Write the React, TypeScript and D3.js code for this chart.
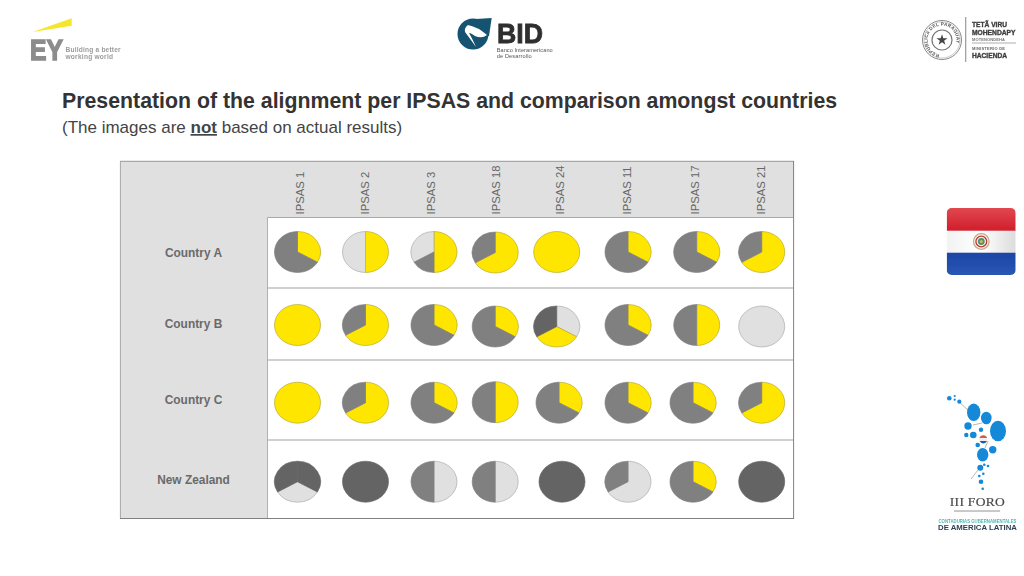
import React from "react";
import * as d3 from "d3";

// ---------- data ----------
const standards = ["IPSAS 1", "IPSAS 2", "IPSAS 3", "IPSAS 18", "IPSAS 24", "IPSAS 11", "IPSAS 17", "IPSAS 21"];
const countries = ["Country A", "Country B", "Country C", "New Zealand"];

type Slice = [string, number];
// clockwise from 12 o'clock, shares in sixths
const countryA: Slice[][] = [
  [["y", 2], ["g", 4]],
  [["y", 3], ["l", 3]],
  [["y", 3], ["g", 1], ["l", 2]],
  [["y", 4], ["g", 2]],
  [["y", 6]],
  [["y", 2], ["g", 4]],
  [["y", 2], ["g", 4]],
  [["y", 4], ["g", 2]],
];
const countryB: Slice[][] = [
  [["y", 6]],
  [["y", 4], ["g", 2]],
  [["y", 2], ["g", 4]],
  [["y", 2], ["g", 4]],
  [["l", 2], ["y", 2], ["d", 2]],
  [["y", 2], ["g", 4]],
  [["y", 3], ["g", 3]],
  [["l", 6]],
];
const countryC: Slice[][] = [
  [["y", 6]],
  [["y", 4], ["g", 2]],
  [["y", 2], ["g", 4]],
  [["y", 3], ["g", 3]],
  [["y", 2], ["g", 4]],
  [["y", 2], ["g", 4]],
  [["y", 2], ["g", 4]],
  [["y", 4], ["g", 2]],
];
const newZealand: Slice[][] = [
  [["d", 2], ["l", 2], ["d", 2]],
  [["d", 6]],
  [["l", 3], ["g", 3]],
  [["l", 3], ["g", 3]],
  [["d", 6]],
  [["l", 4], ["g", 2]],
  [["y", 2], ["g", 4]],
  [["d", 6]],
];
const rows = [countryA, countryB, countryC, newZealand];

// ---------- layout & style ----------
const colX = [297.5, 365.5, 434, 495.2, 556.7, 628, 696.7, 761.7];
const headerX = [300, 365, 431, 495.5, 560, 627, 695, 761];
const rowY = [252, 325, 402.7, 481.7];
const labelY = [252.6, 324, 400, 479.5];
const rowLines = [288, 360, 440];
// per-cell placement nudges in the source collage: [row, col, dx, dy]
const nudges: [number, number, number, number][] = [
  [1, 3, 0, 1.5], [1, 4, 0, 1.5], [1, 7, 0, 1.5], [0, 3, 0, 0.5],
  [2, 3, 0, -0.5], [2, 4, 2.3, 0], [2, 6, -3.7, 0], [3, 4, 5.3, 0], [3, 6, -3.7, 0],
];
const fills: Record<string, string> = { y: "#FFE600", g: "#808080", d: "#646464", l: "#E0E0E0" };
const strokes: Record<string, string> = { y: "#b5a52a", g: "#808080", d: "#646464", l: "#a9a9a9" };
const drawOrder: Record<string, number> = { y: 0, l: 0, g: 1, d: 1 };
const sans = "'Liberation Sans', Arial, sans-serif";

const pie = d3.pie<Slice>().sort(null).value((d) => d[1]);
const arc = d3.arc<d3.PieArcDatum<Slice>>().innerRadius(0).outerRadius(23);
const star = d3.symbol().type(d3.symbolStar).size(38);

const foroDots: [number, number, number, number][] = [
  [949.3, 398.3, 2.3, 2.3], [954.7, 396, 1.1, 1.1], [954.7, 399.7, 1.1, 1.1], [959.3, 401.7, 2.1, 2.1],
  [973.7, 412.3, 6.7, 8.7], [986.3, 418, 5.3, 6.3], [998, 431, 8, 10.3],
  [968, 426, 3.7, 3.7], [973.3, 435, 3.3, 3.3], [966.3, 435, 2.2, 2.2], [981, 429.7, 2.2, 2.2],
  [977.7, 445, 2.3, 2.3], [992.7, 449.7, 3.7, 3.7], [982.7, 454.7, 5.7, 6.7],
  [980.3, 467.7, 3, 3], [984.3, 464.7, 1.3, 1.3], [988, 466, 1.3, 1.3],
  [983.3, 473.7, 1.3, 1.3], [979.3, 476, 1.3, 1.3], [981, 481.7, 2.3, 2.3], [982.7, 488.7, 1.3, 1.3],
];

const Pies = () => (
  <g>
    {rows.map((row, r) =>
      row.map((cell, c) => {
        const n = nudges.find((m) => m[0] === r && m[1] === c);
        const x = colX[c] + (n ? n[2] : 0);
        const y = rowY[r] + (n ? n[3] : 0);
        const arcs = pie(cell).slice().sort((a, b) => drawOrder[a.data[0]] - drawOrder[b.data[0]]);
        return (
          <g key={`${r}-${c}`} transform={`translate(${x},${y}) scale(1,0.89)`}>
            {arcs.map((s, i) => (
              <path key={i} d={arc(s) as string} fill={fills[s.data[0]]} stroke={strokes[s.data[0]]} strokeWidth={0.7} />
            ))}
          </g>
        );
      })
    )}
  </g>
);

const Logos = () => (
  <g filter="url(#soft)">
    {/* EY */}
    <polygon points="32.7,32 71.7,18.3 71.7,25.7" fill="#f5e62a" />
    <text x={30} y={60} fontFamily={sans} fontWeight={700} fontSize={30} fill="#8c8c8c" stroke="#8c8c8c" strokeWidth={1.4} textLength={33} lengthAdjust="spacingAndGlyphs">EY</text>
    <text x={65.5} y={51.7} fontFamily={sans} fontWeight={700} fontSize={6.6} fill="#9c9c9c" textLength={55.2}>Building a better</text>
    <text x={65.5} y={59} fontFamily={sans} fontWeight={700} fontSize={6.6} fill="#9c9c9c" textLength={47.5}>working world</text>
    {/* BID */}
    <circle cx={473} cy={34} r={15.5} fill="#14536f" />
    <polygon points="476,19 491.7,18 489,36 478,36" fill="#14536f" />
    <path d="M468,25 Q478,27 487,35 Q482,39 475,36 Q471,33 469,33 Q472,38 476,47 Q471,40 465,32 Q464,28 468,25 Z" fill="#ffffff" />
    <text x={497} y={43.3} fontFamily={sans} fontWeight={700} fontSize={27} fill="#2f2f2f" stroke="#2f2f2f" strokeWidth={0.8} textLength={46} lengthAdjust="spacingAndGlyphs">BID</text>
    <text x={496.7} y={51.7} fontFamily={sans} fontSize={5.6} fill="#555" textLength={56}>Banco Interamericano</text>
    <text x={496.7} y={57.7} fontFamily={sans} fontSize={5.6} fill="#555" textLength={35}>de Desarrollo</text>
    {/* Hacienda */}
    <path id="sealRing" d="M942,54.5 A14.5,14.5 0 1,1 942.01,54.5" fill="none" />
    <circle cx={942} cy={40} r={19.5} fill="none" stroke="#888" strokeWidth={1} />
    <circle cx={942} cy={40} r={18} fill="none" stroke="#999" strokeWidth={0.5} />
    <text fontFamily={sans} fontWeight={700} fontSize={4.6} fill="#555" letterSpacing={0.2}>
      <textPath href="#sealRing" startOffset="3%">REPUBLICA DEL PARAGUAY</textPath>
    </text>
    <circle cx={942} cy={40} r={10} fill="none" stroke="#777" strokeWidth={1.2} />
    <path d={star() as string} transform="translate(942,40)" fill="#444" />
    <line x1={965.7} x2={965.7} y1={17} y2={62} stroke="#999" strokeWidth={1.2} />
    <text x={972} y={27} fontFamily={sans} fontWeight={700} fontSize={7} fill="#3c3c3c" stroke="#3c3c3c" strokeWidth={0.35} textLength={35} lengthAdjust="spacingAndGlyphs">TETÃ VIRU</text>
    <text x={972} y={34.5} fontFamily={sans} fontWeight={700} fontSize={7} fill="#3c3c3c" stroke="#3c3c3c" strokeWidth={0.35} textLength={43.5} lengthAdjust="spacingAndGlyphs">MOHENDAPY</text>
    <text x={972} y={41} fontFamily={sans} fontWeight={700} fontSize={4} fill="#777" textLength={33}>MOTENONDEHA</text>
    <line x1={972} x2={1016} y1={43} y2={43} stroke="#999" strokeWidth={0.8} />
    <text x={972} y={49.5} fontFamily={sans} fontWeight={700} fontSize={4} fill="#666" textLength={33}>MINISTERIO DE</text>
    <text x={972} y={57.5} fontFamily={sans} fontWeight={700} fontSize={7} fill="#3c3c3c" stroke="#3c3c3c" strokeWidth={0.35} textLength={35} lengthAdjust="spacingAndGlyphs">HACIENDA</text>
    {/* Flag */}
    <g clipPath="url(#flagClip)">
      <rect x={946.7} y={208} width={69} height={23} fill="url(#flagRed)" />
      <rect x={946.7} y={230.7} width={69} height={22} fill="url(#flagWhite)" />
      <rect x={946.7} y={252.7} width={69} height={22.3} fill="url(#flagBlue)" />
    </g>
    <circle cx={981.3} cy={241.5} r={7.8} fill="#f3f3f0" stroke="#c9a98a" strokeWidth={1.2} />
    <circle cx={981.3} cy={241.5} r={5.4} fill="none" stroke="#c0392b" strokeWidth={1.3} />
    <circle cx={981.3} cy={241.5} r={3.4} fill="#4f8f78" />
    <circle cx={981.3} cy={241.5} r={1.6} fill="#cdbb55" />
    {/* Foro */}
    <path d="M959,402 L968,410 M973,425 L982,423 M988,441 L985,448 M978,470 L971,479" stroke="#888" strokeWidth={0.6} fill="none" />
    {foroDots.map((d, i) => (
      <ellipse key={i} cx={d[0]} cy={d[1]} rx={d[2]} ry={d[3]} fill="#1488d8" />
    ))}
    <circle cx={983.3} cy={439.5} r={4} fill="#f0f0f0" />
    <path d="M979.5,438 A4,4 0 0,1 987.1,438 Z" fill="#d8584a" />
    <path d="M979.6,441 A4,4 0 0,0 987,441 Z" fill="#1f5fa8" />
    <text x={977.3} y={506.3} textAnchor="middle" fontFamily="'Liberation Serif', serif" fontSize={13.5} fill="#4a4a4a" stroke="#4a4a4a" strokeWidth={0.2} textLength={55}>III FORO</text>
    <line x1={954} x2={1000} y1={511} y2={511} stroke="#777" strokeWidth={0.8} />
    <text x={977.5} y={522.5} textAnchor="middle" fontFamily={sans} fontWeight={700} fontSize={4.6} fill="#4cb8b4" textLength={78} lengthAdjust="spacingAndGlyphs">CONTADURIAS GUBERNAMENTALES</text>
    <text x={977.5} y={529.5} textAnchor="middle" fontFamily={sans} fontWeight={700} fontSize={7} fill="#2f3f55" textLength={79} lengthAdjust="spacingAndGlyphs">DE AMERICA LATINA</text>
  </g>
);

export default function App() {
  return (
    <svg width={1024} height={576} viewBox="0 0 1024 576" style={{ position: "fixed", left: 0, top: 0, display: "block", background: "#fff" }}>
      <defs>
        <filter id="soft" x="-5%" y="-5%" width="110%" height="110%">
          <feGaussianBlur stdDeviation={0.35} />
        </filter>
        <clipPath id="flagClip">
          <rect x={946.7} y={208} width={69} height={67} rx={5} />
        </clipPath>
        <linearGradient id="flagRed" x1="0" x2="0" y1="0" y2="1">
          <stop offset="0" stopColor="#e2474f" />
          <stop offset="1" stopColor="#d01e2c" />
        </linearGradient>
        <linearGradient id="flagWhite" x1="0" x2="1" y1="0" y2="0">
          <stop offset="0" stopColor="#f2f2f2" />
          <stop offset="0.5" stopColor="#ffffff" />
          <stop offset="1" stopColor="#dcdcdc" />
        </linearGradient>
        <linearGradient id="flagBlue" x1="0" x2="0" y1="0" y2="1">
          <stop offset="0" stopColor="#1c46a6" />
          <stop offset="1" stopColor="#2a56b4" />
        </linearGradient>
      </defs>

      <rect width={1024} height={576} fill="#fff" />

      <text x={62} y={107.5} fontFamily={sans} fontWeight={700} fontSize={21.3} fill="#333">
        Presentation of the alignment per IPSAS and comparison amongst countries
      </text>
      <text x={62} y={133} fontFamily={sans} fontSize={17} fill="#444">
        (The images are{" "}
        <tspan fontWeight={700} textDecoration="underline">not</tspan> based on actual results)
      </text>

      {/* table */}
      <rect x={120} y={161} width={674} height={357.5} fill="#E0E0E0" />
      <rect x={267.5} y={217.5} width={526.5} height={301} fill="#fff" />
      {rowLines.map((y) => (
        <line key={y} x1={267.5} x2={793} y1={y} y2={y} stroke="#c2c2c2" strokeWidth={1.4} />
      ))}
      <line x1={267.5} x2={793} y1={217.5} y2={217.5} stroke="#a8a8a8" />
      <line x1={267.5} x2={267.5} y1={217.5} y2={518} stroke="#b0b0b0" />
      <line x1={120} x2={794} y1={161.3} y2={161.3} stroke="#a8a8a8" strokeWidth={1.2} />
      <line x1={120.4} x2={120.4} y1={161} y2={519} stroke="#a8a8a8" strokeWidth={1} />
      <line x1={793.6} x2={793.6} y1={161} y2={519} stroke="#808080" strokeWidth={1} />
      <line x1={120} x2={794} y1={518.5} y2={518.5} stroke="#808080" strokeWidth={1} />

      {standards.map((s, i) => (
        <text key={s} transform={`translate(${headerX[i] + 4},214.5) rotate(-90)`} fontFamily={sans} fontSize={11.3} fill="#666">
          {s}
        </text>
      ))}
      {countries.map((c, i) => (
        <text key={c} x={193.5} y={labelY[i] + 4} textAnchor="middle" fontFamily={sans} fontWeight={700} fontSize={11.9} fill="#6a6a6a">
          {c}
        </text>
      ))}

      <Pies />
      <Logos />
    </svg>
  );
}
